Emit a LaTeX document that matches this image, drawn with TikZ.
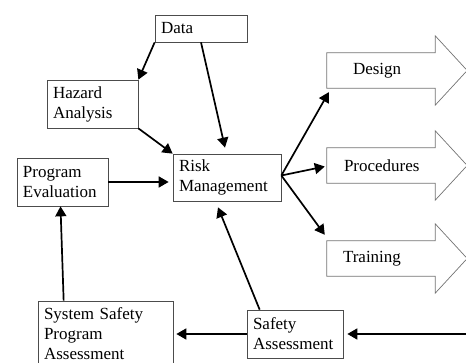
\documentclass[tikz,border=0pt]{standalone}
\usepackage{fontspec}
\setmainfont{Liberation Serif}
\usepackage{tikz}
\usetikzlibrary{calc, positioning, arrows.meta}

\tikzset{
  box/.style={draw=black!70, line width=0.7pt, rectangle, align=left,
    inner xsep=6pt, inner ysep=0pt, font=\fontsize{17}{20}\selectfont},
  shaft/.style={rectangle, text width=108pt, minimum height=35pt, align=left,
    inner sep=0pt, font=\fontsize{17}{20}\selectfont},
  blockline/.style={draw=black!55, line width=0.7pt},
  flow/.style={-{Triangle[length=10pt,width=11pt]}, line width=1.7pt},
}

\begin{document}
\begin{tikzpicture}[x=1pt,y=1pt]
  \useasboundingbox (0,0) rectangle (466,363);
  \clip (0,0) rectangle (466,363);

  % Boxes
  \node[box, text width=80pt, minimum height=27pt] (data) at (201,334.5) {Data};
  \node[box, text width=79pt, minimum height=48pt] (hazard) at (92.5,259) {Hazard\\Analysis};
  \node[box, text width=79pt, minimum height=48pt] (progeval) at (62.5,181) {Program\\Evaluation};
  \node[box, text width=96pt, minimum height=47pt] (risk) at (227,185.5) {Risk\\Management};
  \node[box, text width=84pt, minimum height=48pt] (safety) at (295,29) {Safety\\Assessment};
  \node[box, text width=123pt, minimum height=66pt] (sspa) at (105.5,29) {System Safety\\Program\\Assessment};

  % Block arrows for the outputs
  \foreach \name/\y/\pad/\txt in {design/292.5/26/Design, procedures/197.5/17/Procedures, training/104.5/16/Training}
    {
      \node[shaft] (\name) at (381,\y) {\hspace*{\pad pt}\txt};
      \draw[blockline] (\name.north west) -- (\name.north east) -- ++(0,17)
        -- ($(\name.east)+(32,0)$) -- ($(\name.south east)+(0,-17)$)
        -- (\name.south east) -- (\name.south west) -- cycle;
    }

  % Inputs to risk management
  \draw[flow] (data.south west) -- (hazard.north east);
  \draw[flow] (data.south) -- ($(risk.north)+(-2,6)$);
  \draw[flow] (hazard.south east) -- (risk.north west);
  \draw[flow, shorten >=4pt] (progeval.east) -- (progeval.east -| risk.west);

  % Outputs
  \coordinate (fan) at ($(risk.east)+(0,2)$);
  \draw[flow] (fan) -- ($(design.south west)+(2,-4)$);
  \draw[flow] (fan) -- ($(procedures.west)+(-2,-1)$);
  \draw[flow] (fan) -- ($(training.north west)+(-2,6)$);

  % Assessment loop
  \coordinate (feed) at (466,29);
  \draw[flow] (feed) -- ($(safety.east)+(4,0)$);
  \draw[flow] ($(safety.north west)+(13,0)$) -- ($(risk.south)+(-9,-6)$);
  \draw[flow] (safety.west) -- ($(sspa.east)+(3,0)$);
  \draw[flow] ($(sspa.north west)+(26,0)$) -- ($(progeval.south)+(-2,0)$);
\end{tikzpicture}
\end{document}
